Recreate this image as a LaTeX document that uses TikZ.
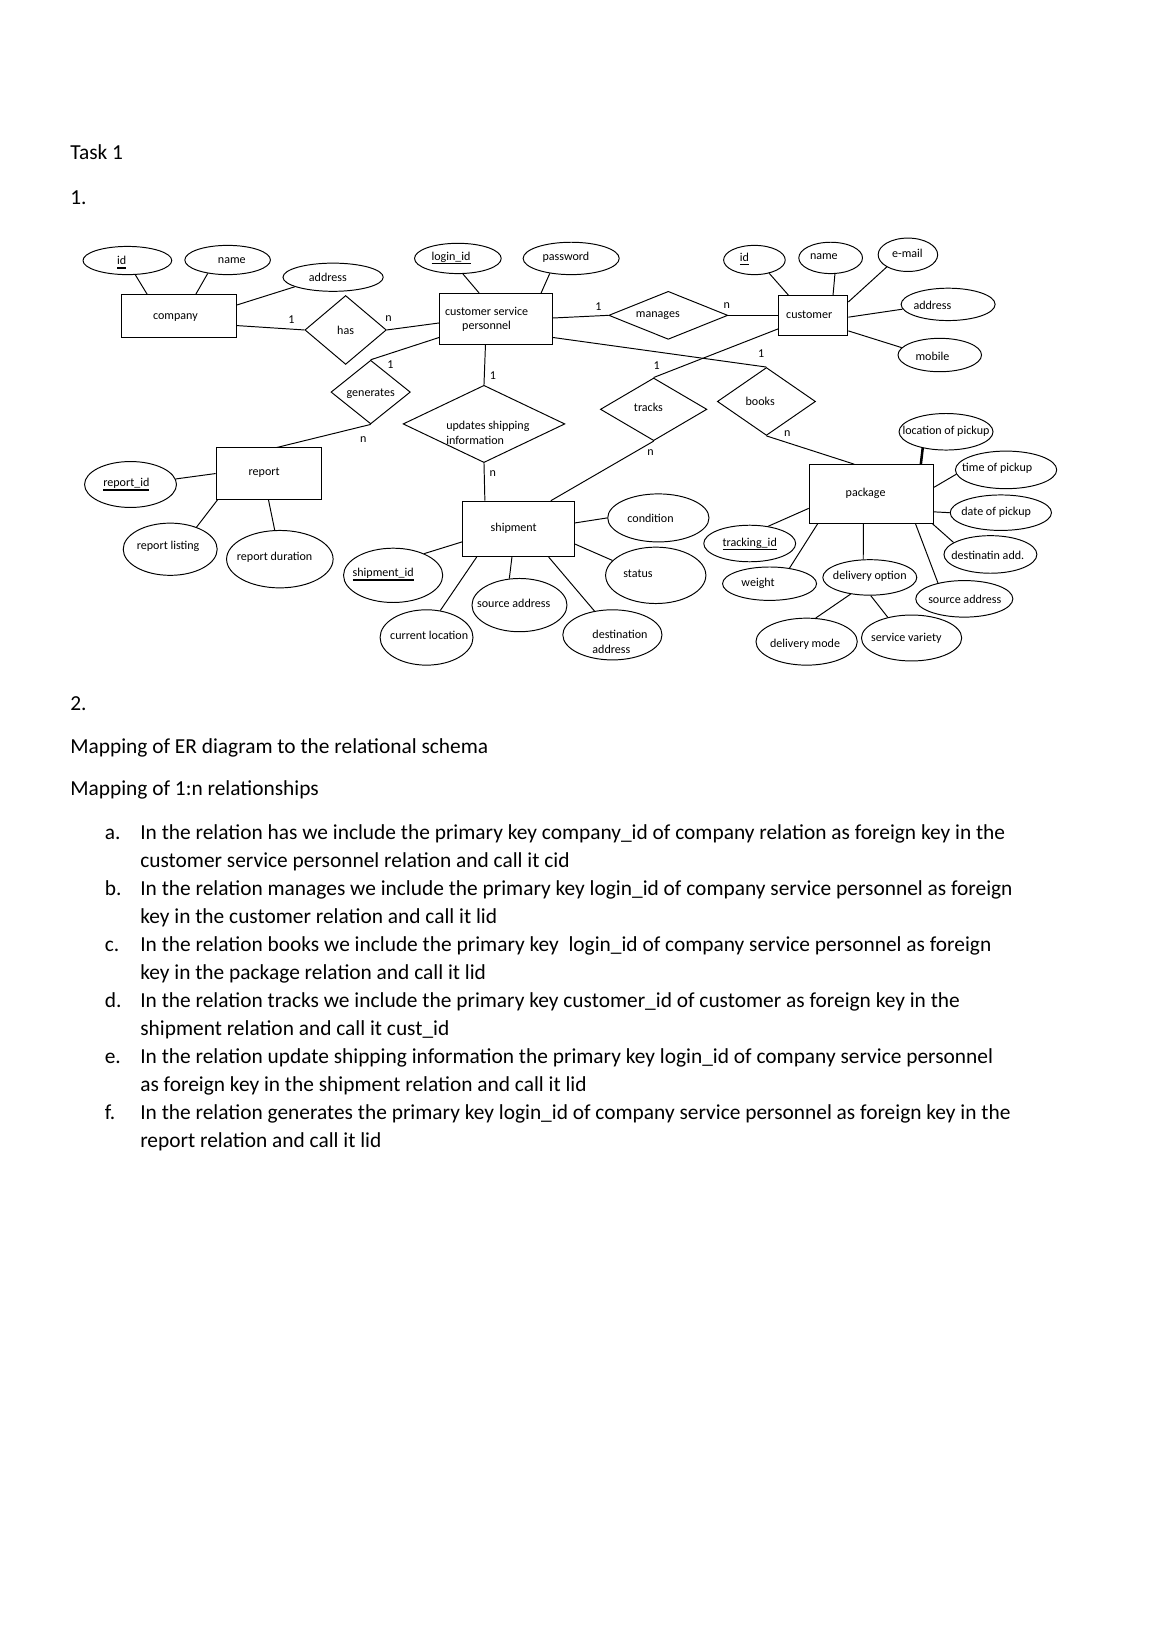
\documentclass[tikz,border=0pt]{standalone}
\usepackage{fontspec}
\setmainfont{Carlito}
\usetikzlibrary{shapes.geometric}
\newcommand\ulk[1]{\setbox0\hbox{#1}\rlap{\smash{\rule[-2.2pt]{\wd0}{0.85pt}}}\box0}
\begin{document}
\begin{tikzpicture}[x=0.5371pt,y=-0.5371pt,
  sz/.style 2 args={minimum width=#1*0.5371pt, minimum height=#2*0.5371pt},
  ent/.style={draw, rectangle, inner sep=0pt, line width=0.5pt},
  attr/.style={draw, ellipse, inner sep=0pt, line width=0.5pt},
  rel/.style={draw, diamond, inner sep=0pt, line width=0.5pt},
  lbl/.style={font=\fontsize{6.2}{7.5}\selectfont, inner sep=0pt},
  lbl2/.style={font=\fontsize{6.2}{8}\selectfont, inner sep=0pt},
  body/.style={font=\fontsize{11}{14.4}\selectfont, anchor=base west, inner sep=0pt},
  conn/.style={line width=0.5pt}]
\fill[white] (0,0) rectangle (1109,1568.7);
\useasboundingbox (0,0) rectangle (1109,1568.7);

% ---------- headings ----------
\node[body] (task) at (67,153) {Task 1};
\node[body] (one) at (67,196) {1.};
\node[body] (two) at (67,680.6) {2.};
\node[body] (map1) at (67,722) {Mapping of ER diagram to the relational schema};
\node[body] (map2) at (67,762.3) {Mapping of 1:n relationships};

% ---------- list ----------
\node[body] (la) at (100,804) {a.};
\node[body] (a1) at (134,804) {In the relation has we include the primary key company\_id of company relation as foreign key in the};
\node[body] (a2) at (134,830.8) {customer service personnel relation and call it cid};
\node[body] (lb) at (100,857.6) {b.};
\node[body] (b1) at (134,857.6) {In the relation manages we include the primary key login\_id of company service personnel as foreign};
\node[body] (b2) at (134,884.4) {key in the customer relation and call it lid};
\node[body] (lc) at (100,911.2) {c.};
\node[body] (c1) at (134,911.2) {In the relation books we include the primary key\ \ login\_id of company service personnel as foreign};
\node[body] (c2) at (134,938) {key in the package relation and call it lid};
\node[body] (ld) at (100,964.8) {d.};
\node[body] (d1) at (134,964.8) {In the relation tracks we include the primary key customer\_id of customer as foreign key in the};
\node[body] (d2) at (134,991.6) {shipment relation and call it cust\_id};
\node[body] (le) at (100,1018.4) {e.};
\node[body] (e1) at (134,1018.4) {In the relation update shipping information the primary key login\_id of company service personnel};
\node[body] (e2) at (134,1045.2) {as foreign key in the shipment relation and call it lid};
\node[body] (lf) at (100,1072) {f.};
\node[body] (f1) at (134,1072) {In the relation generates the primary key login\_id of company service personnel as foreign key in the};
\node[body] (f2) at (134,1098.8) {report relation and call it lid};

% ---------- entities ----------
\node[ent, sz={110}{41}] (company) at (171,303) {};
\node[ent, sz={108}{49}] (csp) at (475,305.5) {};
\node[ent, sz={66}{38}] (cust) at (779,302) {};
\node[ent, sz={101}{49}] (report) at (257.5,453.5) {};
\node[ent, sz={107}{53}] (ship) at (496.5,506.5) {};
\node[ent, sz={119}{56}] (pkg) at (834.5,473) {};

\node[lbl] (t-company) at (168,304) {company};
\node[lbl, align=center] (t-csp) at (466,306) {customer service\\personnel};
\node[lbl] (t-cust) at (775,301) {customer};
\node[lbl] (t-report) at (253,453) {report};
\node[lbl] (t-ship) at (492,506) {shipment};
\node[lbl] (t-pkg) at (829,472) {package};

% ---------- relationships ----------
\node[rel, sz={78}{66}] (has) at (331,316) {};
\node[rel, sz={76}{61}] (gen) at (355,375.5) {};
\node[rel, sz={155}{74}] (upd) at (463.5,406) {};
\node[rel, sz={114}{46}] (man) at (640,302) {};
\node[rel, sz={102}{60}] (tracks) at (626,392) {};
\node[rel, sz={94}{65}] (books) at (734,384.5) {};

\node[lbl] (t-has) at (331,316) {has};
\node[lbl] (t-gen) at (355,377) {generates};
\node[lbl] (t-man) at (630,302) {manages};
\node[lbl2, align=left, anchor=west] (t-upd) at (427,414.5) {updates shipping\\information};
\node[lbl] (t-tracks) at (621,390) {tracks};
\node[lbl] (t-books) at (728,384) {books};

% ---------- attributes ----------
\node[attr, sz={85}{27}] (cid) at (122,249.5) {};
\node[attr, sz={82}{28}] (cname) at (218,249) {};
\node[attr, sz={96}{27}] (caddr) at (319,265.5) {};
\node[attr, sz={83}{29}] (login) at (438.5,247.5) {};
\node[attr, sz={92}{31}] (pwd) at (547,247.5) {};
\node[attr, sz={59}{28}] (uid) at (722.5,249) {};
\node[attr, sz={61}{30}] (uname) at (795.5,247) {};
\node[attr, sz={57}{32}] (email) at (869.5,244) {};
\node[attr, sz={90}{31}] (uaddr) at (908,291.5) {};
\node[attr, sz={80}{32}] (mobile) at (900,340) {};
\node[attr, sz={88}{44}] (rid) at (125,464) {};
\node[attr, sz={90}{50}] (rlist) at (163,526) {};
\node[attr, sz={102}{55}] (rdur) at (268,535.5) {};
\node[attr, sz={95}{52}] (sid) at (376.5,551) {};
\node[attr, sz={89}{53}] (cloc) at (408.5,610.5) {};
\node[attr, sz={91}{51}] (saddr) at (497.5,579.5) {};
\node[attr, sz={95}{48}] (daddr) at (586.5,608) {};
\node[attr, sz={97}{46}] (cond) at (630.5,496) {};
\node[attr, sz={96}{54}] (status) at (628,551) {};
\node[attr, sz={90}{35}] (lpick) at (906,413.5) {};
\node[attr, sz={97}{36}] (tpick) at (963.5,450) {};
\node[attr, sz={97}{34}] (dpick) at (958.5,491) {};
\node[attr, sz={89}{36}] (dest) at (948.5,531) {};
\node[attr, sz={93}{35}] (psaddr) at (923.5,573.5) {};
\node[attr, sz={96}{44}] (svar) at (873,611) {};
\node[attr, sz={97}{45}] (dmode) at (772.5,614.5) {};
\node[attr, sz={90}{34}] (dopt) at (833,553) {};
\node[attr, sz={90}{32}] (weight) at (737,559) {};
\node[attr, sz={88}{35}] (tid) at (718,520.5) {};

\node[lbl] (t-cid) at (116.5,249.5) {\ulk{id}};
\node[lbl] (t-cname) at (222,250) {name};
\node[lbl] (t-caddr) at (314,266) {address};
\node[lbl] (t-login) at (432,246) {\ulk{login\_id}};
\node[lbl] (t-pwd) at (542,246) {password};
\node[lbl] (t-uid) at (713,246) {\ulk{id}};
\node[lbl] (t-uname) at (789,246) {name};
\node[lbl] (t-email) at (869,243) {e-mail};
\node[lbl] (t-uaddr) at (893,292) {address};
\node[lbl] (t-mobile) at (893,341) {mobile};
\node[lbl] (t-rid) at (121,463) {\ulk{report\_id}};
\node[lbl] (t-rlist) at (161,523) {report listing};
\node[lbl] (t-rdur) at (263,534) {report duration};
\node[lbl] (t-sid) at (367,549) {\ulk{shipment\_id}};
\node[lbl] (t-cloc) at (411,608) {current location};
\node[lbl] (t-saddr) at (492,578) {source address};
\node[lbl2, align=left, anchor=west] (t-daddr) at (567,614.5) {destination\\address};
\node[lbl] (t-cond) at (623,496) {condition};
\node[lbl] (t-status) at (611,549) {status};
\node[lbl] (t-lpick) at (906,413) {location of pickup};
\node[lbl] (t-tpick) at (955,448) {time of pickup};
\node[lbl] (t-dpick) at (954,491) {date of pickup};
\node[lbl] (t-dest) at (946,532) {destinatin add.};
\node[lbl] (t-psaddr) at (924,574) {source address};
\node[lbl] (t-svar) at (868,611) {service variety};
\node[lbl] (t-dmode) at (771,617) {delivery mode};
\node[lbl] (t-dopt) at (833,552) {delivery option};
\node[lbl] (t-weight) at (726,559) {weight};
\node[lbl] (t-tid) at (718,520) {\ulk{tracking\_id}};

% ---------- relationship connectors ----------
\draw[conn] (company.-9.3) -- (has.west);
\draw[conn] (has.east) -- (csp.184.8);
\draw[conn] (csp.198.9) -- (gen.north);
\draw[conn] (gen.south) -- (report.73);
\draw[conn] (csp.-112.5) -- (upd.north);
\draw[conn] (upd.south) -- (ship.140.8);
\draw[conn] (csp.1.6) -- (man.west);
\draw[conn] (man.east) -- (cust.west);
\draw[conn] (csp.-18) -- (books.north);
\draw[conn] (cust.201.5) -- (tracks.north);
\draw[conn] (tracks.south) -- (ship.41);
\draw[conn] (books.south) -- (pkg.120);

% cardinalities
\node[lbl] (k1) at (279,306) {1};
\node[lbl] (k2) at (372,305) {n};
\node[lbl] (k3) at (374,349) {1};
\node[lbl] (k4) at (348,421) {n};
\node[lbl] (k5) at (472,360) {1};
\node[lbl] (k6) at (472,454) {n};
\node[lbl] (k7) at (573,294) {1};
\node[lbl] (k8) at (696,293) {n};
\node[lbl] (k9) at (729,339) {1};
\node[lbl] (k10) at (629,350) {1};
\node[lbl] (k11) at (623,433) {n};
\node[lbl] (k12) at (754,415) {n};

% ---------- attribute connectors ----------
\draw[conn] (cid.-61.7) -- (company.145.4);
\draw[conn] (cname.-146.3) -- (company.52.7);
\draw[conn] (caddr.-166.7) -- (company.11.3);
\draw[conn] (login.-72.6) -- (csp.123.1);
\draw[conn] (pwd.-145.7) -- (csp.30.9);
\draw[conn] (uid.-42.9) -- (cust.141.6);
\draw[conn] (uname.-75) -- (cust.46.5);
\draw[conn] (email.-150) -- (cust.21.5);
\draw[conn] (uaddr.-174.8) -- (cust.-3.5);
\draw[conn] (mobile.169) -- (cust.-24.4);
\draw[conn] (rid.7.8) -- (report.180);
\draw[conn] (rlist.40) -- (report.207.3);
\draw[conn] (rdur.100.5) -- (report.-91);
\draw[conn] (cond.180) -- (ship.6.9);
\draw[conn] (status.161.6) -- (ship.-15.2);
\draw[conn] (daddr.127.7) -- (ship.-43.9);
\draw[conn] (saddr.111.8) -- (ship.-103.8);
\draw[conn] (cloc.63.4) -- (ship.-146.1);
\draw[conn] (sid.35.9) -- (ship.193.2);
\draw[line width=1.3pt] (lpick.-145.7) -- (pkg.31.8);
\draw[conn] (tpick.-175) -- (pkg.6.7);
\draw[conn] (dpick.180) -- (pkg.-16.8);
\draw[conn] (dest.162) -- (pkg.-26.4);
\draw[conn] (psaddr.149) -- (pkg.-34.7);
\draw[conn] (dopt.110.6) -- (pkg.-105);
\draw[conn] (dmode.69) -- (dopt.221.8);
\draw[conn] (svar.139.2) -- (dopt.-87);
\draw[conn] (weight.38.3) -- (pkg.209.5);
\draw[conn] (tid.43.4) -- (pkg.193.2);
\end{tikzpicture}
\end{document}
